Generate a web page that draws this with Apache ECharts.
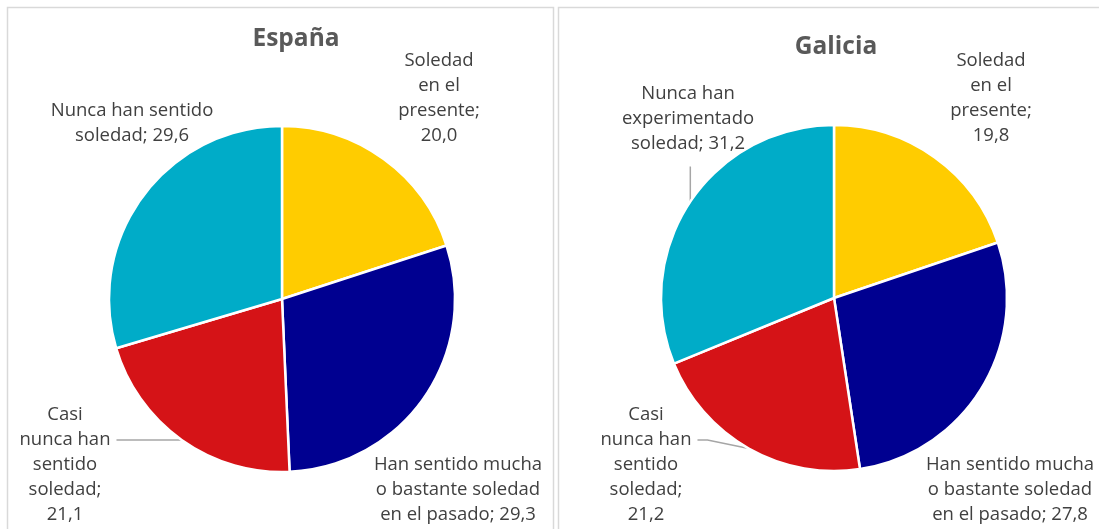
<!DOCTYPE html>
<html>
<head>
<meta charset="utf-8">
<script src="https://cdn.jsdelivr.net/npm/echarts@6/dist/echarts.min.js"></script>
<style>
    html, body { margin: 0; padding: 0; background: #fff; }
    #chart { width: 1099px; height: 529px; }
</style>
</head>
<body>
<div id="chart"></div>
<script>
// datos
var titulos = ['España', 'Galicia'];
var categoriasEspana = ['Soledad\nen el\npresente', 'Han sentido mucha\no bastante soledad\nen el pasado', 'Casi\nnunca han\nsentido\nsoledad', 'Nunca han sentido\nsoledad'];
var categoriasGalicia = ['Soledad\nen el\npresente', 'Han sentido mucha\no bastante soledad\nen el pasado', 'Casi\nnunca han\nsentido\nsoledad', 'Nunca han\nexperimentado\nsoledad'];
var valoresEspana = [20.0, 29.3, 21.1, 29.6];
var valoresGalicia = [19.8, 27.8, 21.2, 31.2];

var colores = ['#FFCC00', '#000090', '#D51317', '#00ACC8'];

// separador entre nombre y valor en cada etiqueta
var separadores = [[';\n', '; ', ';\n', '; '], [';\n', '; ', ';\n', '; ']];
// posiciones de las etiquetas (centro del texto)
var posEtiquetas = [
    [[439, 98], [458, 490], [65, 465], [132, 123]],
    [[991, 98], [1010, 490], [646, 465], [688, 119]]
];
// tipo de linea guia: null = sin linea, 'lado' = sale del lado derecho, 'abajo' = sale por debajo
var lineaGuia = [[null, null, 'lado', null], [null, null, 'lado', 'abajo']];
var ALTO_LINEA = 25;

var chart = echarts.init(document.getElementById('chart'));

function serie(idx, nombres, valores, centro) {
    return {
        type: 'pie',
        center: centro,
        radius: 173,
        startAngle: 90,
        clockwise: true,
        animation: false,
        itemStyle: { borderColor: '#fff', borderWidth: 2.5 },
        label: {
            show: true,
            position: 'outside',
            overflow: 'none',
            fontFamily: 'Open Sans',
            fontSize: 18.5,
            lineHeight: ALTO_LINEA,
            color: '#404040',
            align: 'center',
            formatter: function (p) {
                return p.name + separadores[idx][p.dataIndex] + p.value.toFixed(1).replace('.', ',');
            }
        },
        labelLine: { show: true, length: 10, length2: 10, lineStyle: { color: '#a6a6a6', width: 1.5 } },
        labelLayout: function (p) {
            var pos = posEtiquetas[idx][p.dataIndex];
            var res = { x: pos[0], y: pos[1], align: 'center', verticalAlign: 'middle' };
            var tipo = lineaGuia[idx][p.dataIndex];
            if (tipo && p.labelLinePoints) {
                var ini = p.labelLinePoints[0];
                var w = p.labelRect.width, h = p.labelRect.height;
                if (tipo === 'lado') {
                    var yl = pos[1] - h / 2 + ALTO_LINEA * 1.5;
                    var xl = pos[0] + w / 2 + 6;
                    res.labelLinePoints = [ini, [xl + 10, yl], [xl, yl]];
                } else {
                    var yb = pos[1] + h / 2 + 10;
                    res.labelLinePoints = [ini, [ini[0], (ini[1] + yb) / 2], [ini[0], yb]];
                }
            }
            return res;
        },
        data: valores.map(function (v, i) {
            return {
                name: nombres[i],
                value: v,
                itemStyle: { color: colores[i] },
                labelLine: { show: !!lineaGuia[idx][i] }
            };
        })
    };
}

var option = {
    backgroundColor: '#fff',
    title: [
        { text: titulos[0], left: 291, top: 22, textAlign: 'center',
          textStyle: { fontFamily: 'Open Sans', fontWeight: 'bold', fontSize: 24.5, color: '#595959' } },
        { text: titulos[1], left: 831, top: 30, textAlign: 'center',
          textStyle: { fontFamily: 'Open Sans', fontWeight: 'bold', fontSize: 24.5, color: '#595959' } }
    ],
    graphic: [
        { type: 'rect', shape: { x: 7.5, y: 7.5, width: 546, height: 540 },
          style: { fill: 'none', stroke: '#d9d9d9', lineWidth: 1.5 }, silent: true },
        { type: 'rect', shape: { x: 558.5, y: 7.5, width: 546, height: 540 },
          style: { fill: 'none', stroke: '#d9d9d9', lineWidth: 1.5 }, silent: true }
    ],
    series: [
        serie(0, categoriasEspana, valoresEspana, [282, 299]),
        serie(1, categoriasGalicia, valoresGalicia, [834, 298])
    ]
};

chart.setOption(option);
</script>
</body>
</html>
